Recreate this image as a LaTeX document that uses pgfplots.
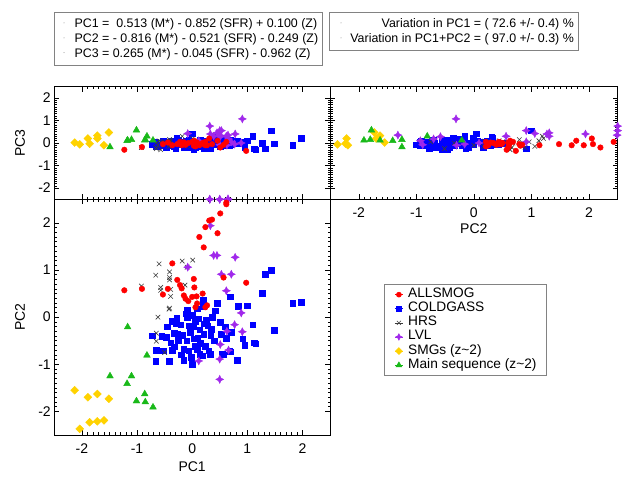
\documentclass[border=0pt]{standalone}
\usepackage{fontspec}
\setmainfont{Liberation Sans}
\usepackage{pgfplots}
\usepackage{pgfplotstable}
\pgfplotsset{compat=1.18}

\definecolor{cSmog}{RGB}{255,0,0}
\definecolor{cCold}{RGB}{0,0,255}
\definecolor{cHrs}{RGB}{60,60,60}
\definecolor{cLvl}{RGB}{160,40,235}
\definecolor{cSmg}{RGB}{255,210,0}
\definecolor{cMs}{RGB}{25,185,25}
\definecolor{frame}{RGB}{130,130,130}

% four-pointed star for LVL
\pgfdeclareplotmark{star4}{%
  \pgfpathmoveto{\pgfqpoint{0pt}{\pgfplotmarksize}}%
  \pgfpathlineto{\pgfqpoint{0.33\pgfplotmarksize}{0.33\pgfplotmarksize}}%
  \pgfpathlineto{\pgfqpoint{\pgfplotmarksize}{0pt}}%
  \pgfpathlineto{\pgfqpoint{0.33\pgfplotmarksize}{-0.33\pgfplotmarksize}}%
  \pgfpathlineto{\pgfqpoint{0pt}{-\pgfplotmarksize}}%
  \pgfpathlineto{\pgfqpoint{-0.33\pgfplotmarksize}{-0.33\pgfplotmarksize}}%
  \pgfpathlineto{\pgfqpoint{-\pgfplotmarksize}{0pt}}%
  \pgfpathlineto{\pgfqpoint{-0.33\pgfplotmarksize}{0.33\pgfplotmarksize}}%
  \pgfpathclose\pgfusepathqfillstroke}

\newcommand\fa{\fontsize{14}{16}\selectfont}

% columns: a = PC1, b = PC2, c = PC3
\pgfplotstableread{
a b c
-1.23 0.57 -0.30
-0.91 0.60 -0.18
-0.53 0.48 -0.05
-0.36 1.14 -0.10
-0.44 0.60 0.02
-0.27 0.79 -0.05
-0.22 0.68 0.05
-0.19 0.61 -0.10
-0.15 0.46 0.03
-0.12 0.39 -0.08
-0.07 0.34 0.00
0.00 0.43 0.05
0.03 0.81 -0.12
0.04 0.63 0.10
0.08 0.44 -0.05
0.09 0.29 0.02
0.06 0.21 -0.15
0.19 0.50 0.00
0.27 0.25 -0.10
0.24 0.21 0.05
0.13 1.70 -0.10
0.21 1.48 -0.05
0.24 1.91 -0.10
0.31 2.05 0.20
0.36 2.07 -0.05
0.46 1.78 0.10
0.51 2.20 -0.20
0.62 2.43 0.05
0.57 0.84 -0.08
0.98 0.73 -0.35
}\allsmog

\pgfplotstableread{
a b c
-0.72 -0.39 -0.05
-0.65 -0.70 -0.15
-0.66 -0.93 0.05
-0.47 -0.43 -0.20
-0.53 -0.71 0.10
-0.42 -0.93 -0.10
-0.36 -0.09 0.00
-0.30 -0.14 -0.25
-0.21 -0.16 0.05
-0.33 -0.34 -0.10
-0.26 -0.36 0.10
-0.18 -0.38 -0.05
-0.39 -0.54 0.00
-0.33 -0.63 -0.15
-0.36 -0.70 0.08
-0.15 -0.68 -0.20
-0.12 0.07 0.10
-0.09 0.00 -0.05
0.00 0.04 0.42
-0.06 -0.18 0.00
0.02 -0.20 -0.12
-0.04 -0.32 0.05
0.03 -0.46 -0.30
-0.15 -0.91 0.02
0.00 -1.00 -0.08
-0.06 -0.71 0.12
0.12 -0.03 -0.05
0.14 -0.27 0.08
0.06 -0.61 -0.18
0.09 -0.68 0.00
0.14 -0.78 -0.10
0.18 -0.82 0.05
0.21 -0.14 -0.22
0.28 -0.18 0.10
0.21 -0.36 -0.05
0.34 -0.39 0.15
0.24 -0.61 -0.12
0.30 -0.71 0.03
0.33 -0.78 -0.25
0.42 0.14 0.05
0.45 0.29 -0.08
0.36 0.00 0.12
0.51 -0.11 -0.15
0.53 -0.36 0.20
0.54 -0.78 -0.05
0.09 0.18 -0.10
0.20 0.23 0.08
-0.09 0.16 -0.18
0.83 0.23 -0.02
0.82 -0.91 0.10
0.68 -0.71 -0.12
0.92 -0.46 0.05
0.95 -0.59 -0.20
1.10 -0.16 0.30
1.12 -0.54 -0.25
1.15 -0.56 -0.30
1.49 -0.28 -0.03
1.33 0.91 -0.25
1.43 1.00 0.55
1.27 0.51 0.00
1.82 0.29 -0.10
1.98 0.32 0.20
1.00 0.24 0.10
0.69 0.43 -0.05
0.71 -0.32 0.00
0.69 -0.73 0.15
0.20 0.36 -0.08
0.45 0.31 0.25
0.56 -0.80 -0.10
0.60 -0.20 0.02
-0.25 -0.50 0.15
0.10 -0.45 -0.15
-0.45 -0.20 0.05
-0.55 -0.40 -0.10
-0.10 -0.50 0.10
0.05 -0.10 -0.20
0.15 -0.55 0.12
0.25 -0.05 -0.08
0.40 -0.50 0.05
-0.20 -0.80 -0.05
0.35 -0.25 0.18
-0.02 -0.85 -0.12
0.62 -0.45 0.08
-0.28 -0.02 0.20
}\coldgass

\pgfplotstableread{
a b c
-0.60 1.13 0.10
-0.66 0.89 -0.20
-0.41 0.96 0.05
-0.41 0.84 -0.10
-0.41 0.79 0.15
-0.18 1.19 0.30
0.01 1.21 0.20
-0.09 1.06 -0.15
-0.13 0.68 0.00
-0.92 0.66 -0.20
-0.57 0.63 -0.30
-0.57 0.57 0.05
-0.39 0.59 -0.05
-0.39 0.44 0.10
-0.42 0.17 -0.15
-0.62 0.00 -0.10
-0.65 -0.34 0.00
-0.65 -0.51 -0.25
-0.50 -0.75 0.05
-0.41 0.19 0.08
}\hrs

\pgfplotstableread{
a b c
0.32 2.50 0.75
0.50 2.50 0.55
0.65 2.49 0.35
0.33 1.94 0.40
0.39 1.31 0.30
0.45 1.31 0.45
0.78 1.27 0.40
-0.08 1.06 0.42
0.53 0.91 0.55
0.71 0.91 0.05
0.62 0.56 0.30
0.89 0.09 0.00
0.77 -0.16 -0.05
0.63 -0.30 -0.10
0.91 -0.31 1.07
0.51 -0.58 0.28
0.66 -0.70 0.18
0.50 -0.89 -0.08
0.12 -0.93 0.10
0.50 -1.32 0.35
}\lvl

\pgfplotstableread{
a b c
-2.13 -1.55 0.02
-1.89 -1.70 0.20
-1.72 -1.63 0.33
-1.51 -1.73 0.47
-2.04 -2.37 -0.06
-1.86 -2.23 -0.03
-1.72 -2.21 0.20
-1.60 -2.19 -0.10
}\smgs

\pgfplotstableread{
a b c
-1.17 -0.21 0.12
-0.82 -0.81 0.30
-1.49 -1.25 -0.18
-1.10 -1.25 0.15
-1.18 -1.41 0.10
-0.86 -1.63 0.12
-1.01 -1.78 0.57
-0.85 -1.80 0.15
-0.71 -1.91 0.12
}\mainseq

\pgfplotsset{
  panel/.style={
    scale only axis, clip=false,
    xmin=-2.5, xmax=2.5, ymin=-2.5, ymax=2.5,
    xtick={-2,-1,0,1,2}, ytick={-2,-1,0,1,2},
    xticklabels={-2,-1,0,1,2}, yticklabels={-2,-1,0,1,2},
    minor tick num=9, major tick length=5pt, minor tick length=2.5pt,
    tick style={black, line width=0.5pt},
    axis line style={line width=0.6pt},
    tick label style={font=\fa},
    xticklabel style={yshift=-5pt},
    every axis x label/.style={at={(axis description cs:0.5,0)}, anchor=center, font=\fa},
    every axis y label/.style={at={(axis description cs:0,0.5)}, xshift=-34.3pt, rotate=90, anchor=center, font=\fa},
  },
  smog/.style={only marks, mark=*, mark size=2.8pt, color=cSmog},
  cold/.style={only marks, mark=square*, mark size=2.8pt, color=cCold},
  hrsm/.style={only marks, mark=x, mark size=3.2pt, color=cHrs, mark options={line width=0.6pt}},
  lvlm/.style={only marks, mark=star4, mark size=4pt, color=cLvl},
  smg/.style={only marks, mark=square*, mark size=2.8pt, color=cSmg, mark options={rotate=45}},
  ms/.style={only marks, mark=triangle*, mark size=3.9pt, color=cMs},
}

\begin{document}
\begin{tikzpicture}
\path[use as bounding box] (0,0) rectangle (628pt,486pt);

% equation boxes
\draw[frame, line width=0.6pt] (54.4pt,421pt) rectangle (322.4pt,474pt);
\draw[frame, line width=0.6pt] (329pt,436pt) rectangle (578.4pt,474pt);
\begin{scope}[every node/.style={font=\fontsize{12.4}{14}\selectfont, inner sep=0pt}]
\fill[frame] (64pt,463pt) circle (0.5pt) (64pt,448.2pt) circle (0.5pt) (64pt,433.4pt) circle (0.5pt);
\node[anchor=base west] at (74.4pt,458.4pt) {PC1 = \ 0.513 (M*) - 0.852 (SFR) + 0.100 (Z)};
\node[anchor=base west] at (74.4pt,443.6pt) {PC2 = - 0.816 (M*) - 0.521 (SFR) - 0.249 (Z)};
\node[anchor=base west] at (74.4pt,428.8pt) {PC3 = 0.265 (M*) - 0.045 (SFR) - 0.962 (Z)};
\fill[frame] (341pt,463pt) circle (0.5pt) (341pt,448.2pt) circle (0.5pt);
\node[anchor=base east] at (574pt,458.4pt) {Variation in PC1 = ( 72.6 +/- 0.4) \%};
\node[anchor=base east] at (574pt,443.6pt) {Variation in PC1+PC2 = ( 97.0 +/- 0.3) \%};
\end{scope}

% PC1 vs PC3
\begin{axis}[panel, at={(54.3pt,286.7pt)}, anchor=south west,
  width=275.7pt, height=112.6pt, xticklabels={}, ylabel={PC3}]
\addplot[cold] table[x=a,y=c] {\coldgass};
\addplot[hrsm] table[x=a,y=c] {\hrs};
\addplot[lvlm] table[x=a,y=c] {\lvl};
\addplot[lvlm] coordinates {(0.32,-2.5) (0.50,-2.5) (0.65,-2.48)};
\addplot[smog] table[x=a,y=c] {\allsmog};
\addplot[smog] coordinates {(0.62,-2.72)};
\addplot[smg] table[x=a,y=c] {\smgs};
\addplot[ms] table[x=a,y=c] {\mainseq};
\end{axis}

% PC2 vs PC3
\begin{axis}[panel, at={(330pt,286.7pt)}, anchor=south west,
  width=287.7pt, height=112.6pt, yticklabels={}, xlabel={PC2},
  xlabel style={yshift=-29.3pt}]
\addplot[cold] table[x=b,y=c] {\coldgass};
\addplot[hrsm] table[x=b,y=c] {\hrs};
\addplot[lvlm] table[x=b,y=c] {\lvl};
\addplot[smog] table[x=b,y=c] {\allsmog};
\addplot[smg] table[x=b,y=c] {\smgs};
\addplot[ms] table[x=b,y=c] {\mainseq};
\end{axis}

% PC1 vs PC2
\begin{axis}[panel, at={(54.3pt,51pt)}, anchor=south west,
  width=275.7pt, height=235.7pt, xlabel={PC1}, ylabel={PC2},
  xlabel style={yshift=-31.5pt},
  legend cell align=left,
  legend image code/.code={\path (-4pt,0pt) -- (4pt,0pt); \draw plot coordinates {(0pt,0pt)};},
  legend style={at={(1.197,0.6406)}, anchor=north west, draw=frame, line width=0.6pt,
    inner xsep=10pt, inner ysep=3.3pt, column sep=5pt,
    font=\fontsize{13.7}{15}\selectfont,
    nodes={inner sep=0pt, text height=10pt, text depth=4.1pt}}]
\addlegendimage{smog, mark size=2.5pt}\addlegendentry{ALLSMOG}
\addlegendimage{cold, mark size=2.4pt}\addlegendentry{COLDGASS}
\addlegendimage{hrsm, mark size=2.8pt}\addlegendentry{HRS}
\addlegendimage{lvlm, mark size=3.2pt}\addlegendentry{LVL}
\addlegendimage{smg, mark size=2.4pt}\addlegendentry{SMGs (z\textasciitilde 2)}
\addlegendimage{ms, mark size=3.2pt}\addlegendentry{Main sequence (z\textasciitilde 2)}
\addplot[cold, forget plot] table[x=a,y=b] {\coldgass};
\addplot[hrsm, forget plot] table[x=a,y=b] {\hrs};
\addplot[lvlm, forget plot] table[x=a,y=b] {\lvl};
\addplot[smog, forget plot] table[x=a,y=b] {\allsmog};
\addplot[smg, forget plot] table[x=a,y=b] {\smgs};
\addplot[ms, forget plot] table[x=a,y=b] {\mainseq};
\end{axis}
\end{tikzpicture}
\end{document}
